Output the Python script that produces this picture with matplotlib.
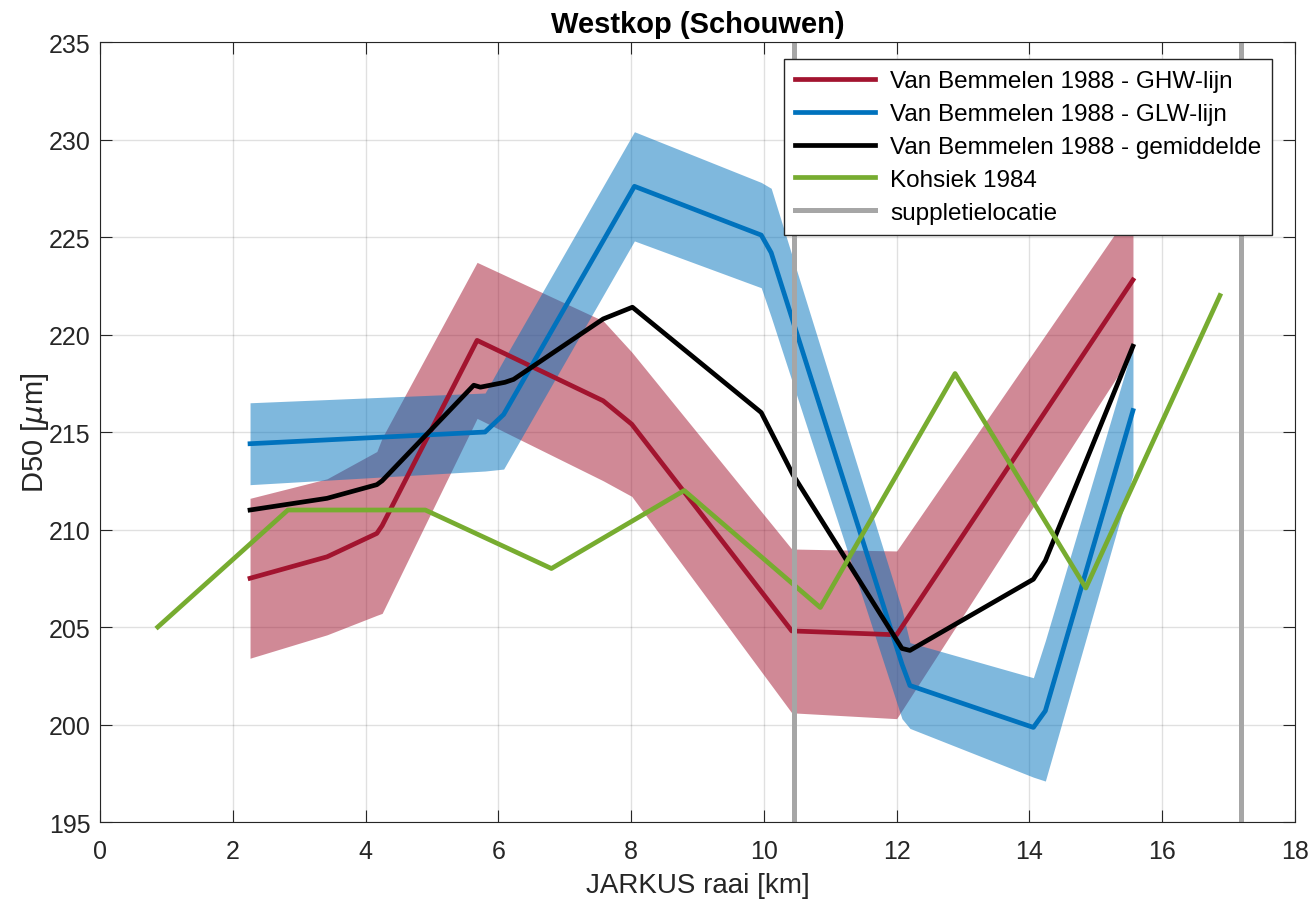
import numpy as np
import matplotlib
matplotlib.use('Agg')
from matplotlib import pyplot as plt

plt.rcParams['font.family'] = ['Liberation Sans', 'DejaVu Sans']

# Van Bemmelen 1988 - GHW-lijn (line + spread)
ghw_x = [2.26, 3.42, 4.17, 4.25, 5.68, 7.58, 8.01, 10.42, 12.0, 15.56]
ghw_y = [207.5, 208.6, 209.8, 210.2, 219.7, 216.6, 215.4, 204.8, 204.6, 222.8]
ghw_s = [4.1, 4.0, 4.2, 4.5, 4.0, 4.1, 3.7, 4.2, 4.3, 3.7]

# Van Bemmelen 1988 - GLW-lijn
glw_x = [2.26, 5.8, 6.08, 8.05, 9.96, 10.11, 12.08, 12.2, 14.06, 14.24, 15.56]
glw_y = [214.4, 215.0, 215.9, 227.6, 225.1, 224.2, 203.1, 202.0, 199.85, 200.7, 216.1]
glw_s = [2.1, 2.0, 2.8, 2.8, 2.7, 3.3, 2.8, 2.2, 2.55, 3.6, 3.3]

# Van Bemmelen 1988 - gemiddelde
gem_x = [2.26, 3.42, 4.17, 4.25, 5.63, 5.73, 6.1, 6.23, 7.58, 8.02, 9.96, 10.11,
         10.44, 12.08, 12.2, 14.06, 14.24, 15.56]
gem_y = [211.0, 211.6, 212.3, 212.5, 217.4, 217.3, 217.55, 217.7, 220.8, 221.4,
         216.0, 215.0, 212.8, 203.9, 203.8, 207.45, 208.4, 219.4]

# Kohsiek 1984
koh_x = [0.87, 2.83, 4.9, 6.8, 8.8, 10.85, 12.88, 14.85, 16.87]
koh_y = [205, 211, 211, 208, 212, 206, 218, 207, 222]

# suppletielocatie
supp_x = [10.45, 17.18]

red = '#A2142F'
blue = '#0072BD'
green = '#77AC30'
grey = '#A6A6A6'
axcol = '#262626'

fig = plt.figure(figsize=(13.16, 9.04), dpi=100)
ax = fig.add_axes([0.076, 0.0896, 0.908, 0.8628])

gx = np.array(ghw_x); gy = np.array(ghw_y); gs = np.array(ghw_s)
ax.fill_between(gx, gy - gs, gy + gs, color=red, alpha=0.5, lw=0)
bx = np.array(glw_x); by = np.array(glw_y); bs = np.array(glw_s)
ax.fill_between(bx, by - bs, by + bs, color=blue, alpha=0.5, lw=0)

ax.plot(ghw_x, ghw_y, color=red, lw=3.4, label='Van Bemmelen 1988 - GHW-lijn')
ax.plot(glw_x, glw_y, color=blue, lw=3.4, label='Van Bemmelen 1988 - GLW-lijn')
ax.plot(gem_x, gem_y, color='black', lw=3.4, label='Van Bemmelen 1988 - gemiddelde')
ax.plot(koh_x, koh_y, color=green, lw=3.4, label='Kohsiek 1984')
for i, sx in enumerate(supp_x):
    ax.axvline(sx, color=grey, lw=3.6, label='suppletielocatie' if i == 0 else None)

ax.set_xlim(0, 18)
ax.set_ylim(195, 235)
ax.set_xticks(np.arange(0, 19, 2))
ax.set_yticks(np.arange(195, 236, 5))
ax.grid(True, color='#000000', alpha=0.12, lw=1)
ax.set_axisbelow(True)
ax.tick_params(direction='in', top=True, right=True, labelsize=18, colors=axcol, length=8.5)
ax.tick_params(axis='x', pad=12)
ax.tick_params(axis='y', pad=7)
for sp in ax.spines.values():
    sp.set_color(axcol)

ax.set_xlabel('JARKUS raai [km]', fontsize=20, color=axcol, labelpad=7)
ax.set_ylabel(r'D50 [$\mu$m]', fontsize=21, color=axcol, labelpad=-2)
ax.set_title('Westkop (Schouwen)', fontsize=21, fontweight='bold', pad=7)

leg = ax.legend(loc='upper right', bbox_to_anchor=(0.981, 0.978), borderaxespad=0,
                fontsize=17.5, fancybox=False, edgecolor=axcol, framealpha=1,
                handlelength=3.3, borderpad=0.45, labelspacing=0.45, handletextpad=0.6)
leg.get_frame().set_linewidth(1)

fig.savefig('out.png', dpi=100)
